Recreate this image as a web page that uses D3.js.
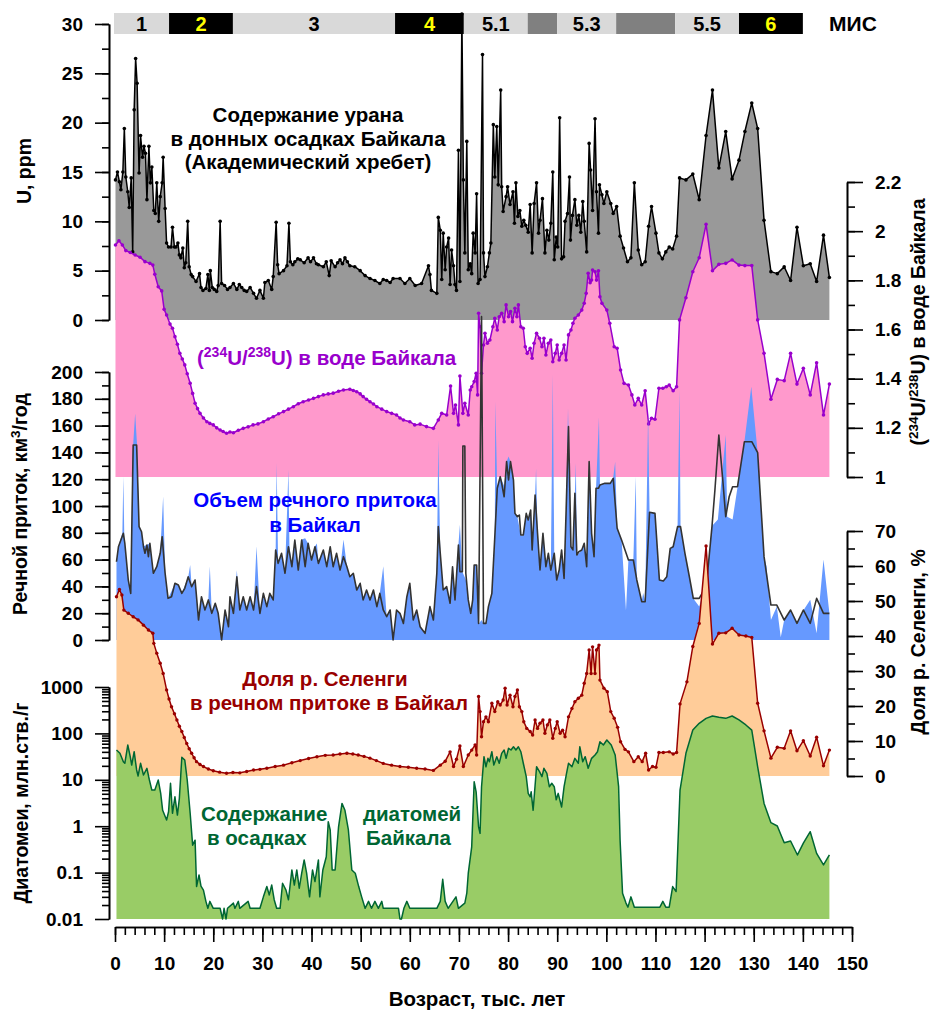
<!DOCTYPE html>
<html lang="ru">
<head>
<meta charset="UTF-8">
<title>Уран, изотопы и диатомеи Байкала</title>
<style>
  body { margin: 0; background: #fff; }
  svg { display: block; font-family: "Liberation Sans", Arial, sans-serif; font-weight: bold; }
  .axis text { font-size: 19px; font-weight: bold; fill: #000; font-family: "Liberation Sans", Arial, sans-serif; }
  .axis path, .axis line { stroke: #000; stroke-width: 1.6px; }
</style>
</head>
<body>
<svg id="chart" width="935" height="1010"></svg>
<script src="https://cdn.jsdelivr.net/npm/d3@7"></script>
<script>
// ---- data: [age (kyr), value] ----
const uranium = [[0.1,14.2],[0.5,15.0],[0.9,14.0],[1.2,13.2],[1.6,15.0],[1.9,19.4],[2.2,14.5],[2.6,13.0],[2.9,11.4],[3.3,14.4],[3.6,6.9],[3.9,21.3],[4.2,26.5],[4.5,24.0],[4.9,14.9],[5.2,18.7],[5.6,16.5],[5.9,17.6],[6.2,16.9],[6.5,12.2],[6.9,17.6],[7.2,13.9],[7.5,15.5],[7.9,11.1],[8.2,10.8],[8.5,13.9],[8.9,10.0],[9.2,12.5],[9.6,13.9],[9.8,16.5],[10.2,11.3],[10.5,7.8],[10.9,7.4],[11.4,7.4],[11.7,9.4],[12.1,7.4],[12.4,7.4],[12.8,7.8],[13.1,6.6],[13.4,6.3],[13.8,7.3],[14.1,5.3],[14.4,5.8],[14.8,10.0],[15.1,5.4],[15.5,4.6],[15.8,4.4],[16.5,3.9],[17.2,4.7],[17.5,3.3],[17.9,3.0],[18.5,3.2],[18.9,4.6],[19.2,3.0],[19.4,5.0],[19.8,3.3],[20.2,3.1],[20.7,2.9],[21.0,3.5],[21.4,10.0],[21.7,3.7],[22.3,3.5],[22.9,3.1],[23.4,3.3],[24.1,3.7],[24.8,3.1],[25.3,3.6],[25.8,3.3],[26.3,3.0],[26.8,2.9],[27.5,3.3],[28.2,2.7],[28.8,2.2],[29.5,3.0],[30.2,2.2],[30.5,3.8],[31.2,4.0],[31.9,3.1],[32.2,4.4],[32.8,9.9],[33.1,5.6],[33.4,4.7],[34.3,5.0],[35.0,5.5],[35.4,9.8],[35.7,5.9],[36.2,5.6],[36.6,5.9],[37.2,6.2],[37.7,6.1],[38.5,5.8],[39.3,6.3],[39.8,5.9],[40.4,6.3],[41.0,5.7],[41.4,5.6],[42.4,5.4],[43.0,5.9],[43.6,4.5],[44.0,6.0],[44.8,5.4],[45.3,5.8],[45.8,6.1],[46.3,5.7],[46.8,6.3],[47.3,5.9],[47.8,5.5],[48.8,5.4],[49.9,5.0],[50.9,4.5],[51.9,4.2],[52.9,4.0],[53.9,3.7],[54.6,4.1],[55.3,4.0],[56.0,3.8],[56.6,4.2],[58.0,4.2],[59.0,3.7],[60.0,4.2],[61.1,3.5],[62.4,3.7],[63.8,5.5],[64.1,4.6],[64.4,3.0],[65.5,2.7],[65.8,10.4],[66.2,9.1],[66.5,4.1],[66.8,8.8],[67.2,5.1],[67.5,7.4],[67.9,8.3],[68.2,3.6],[68.5,7.1],[68.9,5.5],[69.2,3.6],[69.5,3.0],[69.9,17.2],[70.2,3.9],[70.6,31],[70.9,14.2],[71.2,6.8],[71.6,18.1],[71.9,5.1],[72.3,5.7],[72.6,4.7],[72.9,8.8],[73.3,6.8],[73.6,12.8],[73.9,3.7],[74.3,4.1],[74.8,26.9],[75.0,6.8],[75.3,4.4],[75.8,5.4],[76.2,6.8],[76.5,7.8],[77.0,19.8],[77.3,14.5],[77.7,19.6],[78.0,13.7],[78.5,23.3],[78.7,13.5],[79.0,11.0],[79.6,12.5],[79.9,13.5],[80.4,11.7],[81.0,13.0],[81.3,9.8],[81.6,13.9],[82.0,10.5],[82.4,11.1],[82.8,9.5],[83.2,10.1],[83.6,9.6],[84.1,8.9],[84.5,11.7],[84.9,6.8],[85.3,11.8],[85.8,13.9],[86.2,8.8],[86.5,10.1],[87.0,12.3],[87.5,6.8],[87.9,9.1],[88.3,8.1],[88.7,9.8],[89.1,15.0],[89.4,6.1],[89.8,8.4],[90.1,7.4],[90.5,20.5],[90.9,6.2],[91.3,6.4],[91.6,10.0],[92.1,10.8],[92.5,14.5],[92.7,8.1],[93.1,10.6],[93.6,12.2],[94.0,9.6],[94.4,10.6],[94.8,8.9],[95.2,12.0],[95.5,10.0],[96.0,6.9],[96.5,17.9],[96.8,15.2],[97.2,11.1],[97.7,20.4],[98.0,13.0],[98.4,8.8],[98.6,13.7],[99.1,12.7],[99.5,11.8],[100.1,13.0],[100.9,11.8],[101.4,10.8],[102.1,11.5],[102.8,8.5],[103.5,7.3],[104.3,5.9],[105.0,6.3],[105.7,13.9],[106.5,7.1],[107.2,5.6],[107.9,5.9],[108.6,9.5],[109.2,11.5],[110.1,8.8],[110.7,6.8],[111.4,6.2],[112.1,6.9],[112.8,7.4],[113.5,7.2],[114.3,8.5],[114.9,14.4],[116.2,14.2],[117.6,14.8],[118.9,12.2],[120.3,18.7],[121.6,23.3],[122.9,15.4],[124.3,19.1],[125.6,14.3],[127.0,16.2],[128.2,19.1],[129.6,22.0],[130.8,19.4],[132.1,10.1],[133.5,4.9],[134.8,4.7],[136.2,5.4],[137.5,4.0],[138.8,9.4],[140.1,5.5],[141.5,5.7],[142.8,3.9],[144.2,8.6],[145.4,4.3]];

const uRatio = [[0.1,1.944],[0.8,1.961],[1.5,1.944],[2.2,1.921],[3.1,1.913],[4.1,1.903],[5.1,1.894],[6.1,1.876],[7.1,1.869],[7.7,1.862],[8.1,1.825],[8.8,1.774],[9.5,1.757],[10.0,1.682],[10.5,1.659],[11.2,1.622],[11.7,1.605],[12.2,1.571],[12.7,1.540],[13.2,1.503],[13.7,1.480],[14.2,1.456],[14.7,1.420],[15.3,1.381],[15.8,1.340],[16.3,1.300],[16.8,1.278],[17.3,1.259],[18.0,1.240],[18.7,1.225],[19.3,1.218],[20.0,1.212],[20.7,1.200],[21.4,1.191],[22.0,1.185],[22.7,1.178],[23.4,1.183],[24.1,1.180],[25.1,1.190],[26.1,1.198],[27.1,1.204],[28.1,1.212],[29.1,1.216],[30.2,1.225],[31.2,1.236],[32.2,1.245],[33.3,1.257],[34.3,1.266],[35.3,1.276],[36.3,1.286],[37.3,1.298],[38.3,1.306],[39.4,1.313],[40.4,1.320],[41.4,1.327],[42.4,1.334],[43.4,1.338],[44.4,1.341],[45.5,1.349],[46.5,1.354],[47.8,1.357],[48.5,1.352],[49.2,1.347],[49.9,1.338],[50.5,1.327],[51.2,1.316],[51.9,1.306],[52.6,1.297],[53.3,1.286],[54.3,1.276],[55.3,1.266],[56.3,1.259],[57.3,1.252],[58.0,1.240],[58.7,1.232],[60.0,1.225],[61.0,1.212],[62.1,1.215],[63.4,1.205],[64.8,1.198],[65.8,1.232],[66.5,1.259],[67.5,1.252],[68.3,1.370],[68.9,1.259],[69.3,1.293],[69.9,1.212],[70.2,1.411],[70.8,1.259],[71.2,1.300],[71.9,1.252],[72.3,1.354],[72.6,1.367],[73.1,1.388],[73.5,1.422],[73.8,1.334],[74.0,1.666],[74.3,1.611],[74.6,1.422],[75.0,1.537],[75.3,1.585],[75.8,1.544],[76.3,1.557],[76.9,1.611],[77.3,1.646],[77.8,1.598],[78.2,1.652],[78.7,1.666],[79.2,1.632],[79.6,1.700],[80.1,1.652],[80.5,1.673],[80.9,1.632],[81.4,1.686],[81.8,1.652],[82.1,1.700],[82.6,1.611],[83.1,1.605],[83.5,1.530],[83.9,1.503],[84.5,1.524],[84.9,1.483],[85.3,1.544],[85.8,1.585],[86.4,1.564],[86.9,1.530],[87.3,1.564],[87.7,1.496],[88.2,1.544],[88.7,1.557],[89.1,1.469],[89.6,1.503],[90.0,1.537],[90.4,1.476],[90.9,1.503],[91.4,1.537],[91.8,1.476],[92.3,1.578],[92.8,1.598],[93.2,1.625],[93.6,1.646],[94.3,1.659],[95.0,1.679],[95.5,1.707],[95.9,1.747],[96.3,1.829],[96.7,1.790],[97.0,1.801],[97.2,1.842],[97.7,1.835],[98.0,1.801],[98.4,1.839],[98.7,1.733],[99.1,1.707],[100.1,1.679],[100.7,1.625],[101.6,1.530],[102.2,1.524],[102.9,1.435],[103.6,1.381],[104.5,1.374],[105.2,1.334],[105.8,1.293],[106.5,1.320],[107.2,1.293],[107.9,1.351],[108.6,1.216],[109.2,1.239],[109.9,1.235],[110.7,1.361],[111.5,1.361],[112.2,1.367],[112.8,1.374],[113.6,1.351],[114.3,1.367],[114.9,1.639],[116.2,1.729],[117.6,1.835],[118.9,1.892],[120.3,2.028],[121.6,1.839],[122.9,1.865],[124.3,1.869],[125.6,1.883],[127.0,1.862],[128.2,1.860],[129.6,1.860],[130.8,1.639],[132.1,1.503],[133.5,1.316],[134.8,1.397],[136.2,1.392],[137.5,1.503],[138.8,1.378],[140.1,1.442],[141.5,1.334],[142.8,1.465],[144.2,1.252],[145.4,1.378]];

const inflowArea = [[0.3,58],[0.7,70],[1.5,80],[1.7,122],[1.9,75],[2.7,45],[3.2,35],[3.6,140],[4.1,169],[4.5,145],[4.9,85],[5.4,81],[5.8,70],[6.5,71],[7.1,72],[7.8,50],[8.5,55],[9.2,65],[9.8,107],[10.2,50],[10.8,31],[12.2,42],[12.9,41],[13.6,35],[14.9,47],[15.3,56],[15.6,40],[16.3,45],[17.0,15],[17.6,32],[18.3,22],[19.0,30],[19.3,55],[19.7,20],[20.4,27],[21.0,20],[21.7,2],[22.4,22],[23.1,10],[23.4,32],[24.1,20],[24.8,52],[25.4,22],[26.1,32],[26.8,22],[27.5,32],[28.2,22],[28.8,70],[29.5,20],[30.2,35],[30.9,25],[31.5,35],[32.2,30],[32.7,67],[32.9,132],[33.2,57],[33.9,65],[34.6,50],[35.3,127],[35.5,70],[36.0,55],[36.6,75],[37.3,52],[38.0,75],[38.7,76],[39.3,72],[40.0,60],[40.7,70],[41.1,72],[41.4,57],[42.4,67],[43.1,55],[43.8,70],[44.4,55],[45.1,65],[45.8,52],[46.5,75],[47.2,55],[47.8,47],[48.5,50],[49.2,37],[49.9,42],[50.5,30],[51.2,37],[51.9,30],[52.6,37],[53.3,25],[53.9,35],[54.6,55],[55.3,17],[56.0,22],[56.6,2],[57.3,22],[58.0,20],[58.7,12],[59.4,32],[60.0,42],[60.7,15],[61.4,22],[62.1,10],[63.1,5],[64.1,25],[64.8,15],[65.5,50],[65.8,149],[66.2,65],[66.8,37],[67.5,40],[68.2,27],[68.7,55],[69.2,30],[69.9,71],[70.2,86],[70.7,51],[71.4,45],[71.9,30],[72.4,20],[72.8,30],[73.1,56],[73.6,56],[74.0,12],[74.6,15],[75.0,12],[75.5,12],[76.0,25],[76.7,35],[77.3,77],[77.4,178],[77.8,113],[78.4,122],[79.2,115],[79.7,133],[80.1,137],[80.5,133],[81.1,119],[81.4,95],[81.9,92],[82.6,78],[83.1,78],[83.7,95],[84.1,90],[84.6,97],[84.9,67],[85.5,108],[85.7,128],[86.0,80],[86.5,52],[87.1,80],[87.7,55],[88.2,65],[88.7,52],[89.1,198],[89.4,65],[89.9,45],[90.4,52],[90.9,67],[91.4,46],[91.8,95],[92.2,173],[92.8,70],[93.2,67],[93.6,110],[93.8,132],[94.0,63],[95.0,67],[95.5,72],[96.0,55],[96.5,133],[97.0,80],[97.5,62],[97.9,113],[98.5,166],[98.7,116],[99.7,117],[100.8,117],[101.4,121],[101.8,133],[102.2,83],[103.1,75],[104.0,22],[104.5,60],[105.5,60],[106.0,122],[106.2,45],[107.2,29],[107.5,35],[107.9,29],[108.5,169],[108.8,95],[109.9,95],[110.8,45],[111.6,44],[112.3,47],[113.0,68],[113.6,70],[114.5,85],[114.9,187],[115.1,85],[116.0,65],[116.9,47],[117.7,31],[118.9,25],[119.9,37],[120.6,50],[121.5,85],[122.7,90],[124.3,153],[124.6,92],[125.7,90],[126.7,114],[128.1,148],[129.5,189],[130.8,140],[132.1,62],[132.6,55],[133.5,15],[134.7,25],[135.5,2],[136.2,15],[137.5,22],[138.8,12],[140.1,22],[141.5,30],[142.8,5],[144.2,60],[145.4,20]];

const inflowLine = [[0.3,58.4],[0.7,69.6],[1.7,79.6],[2.0,72.2],[2.7,44.8],[3.2,34.8],[3.7,145.5],[4.4,145.5],[4.9,84.6],[5.4,80.8],[5.8,69.6],[6.1,64.7],[6.5,70.9],[6.8,62.2],[7.1,72.2],[7.8,49.8],[8.5,54.7],[9.2,64.7],[9.6,77.1],[10.2,49.8],[10.8,31.1],[11.5,32.3],[12.2,42.3],[12.9,41.0],[13.6,34.8],[14.2,38.6],[14.9,47.2],[15.6,39.8],[16.3,44.8],[17.0,14.9],[17.6,32.3],[18.3,22.4],[19.0,29.9],[19.7,19.9],[20.4,27.4],[21.0,19.9],[21.7,0],[22.4,22.4],[23.1,9.9],[23.4,32.3],[24.1,19.9],[24.8,47.2],[25.4,22.4],[26.1,32.3],[26.8,22.4],[27.5,32.3],[28.2,22.4],[28.8,39.8],[29.5,19.9],[30.2,34.8],[30.9,24.9],[31.5,34.8],[32.2,29.9],[32.7,67.2],[33.2,57.2],[33.9,64.7],[34.6,49.8],[35.3,69.6],[36.0,54.7],[36.6,74.6],[37.3,52.2],[38.0,74.6],[38.7,54.7],[39.3,72.2],[40.0,59.7],[40.7,69.6],[41.4,57.2],[42.4,67.2],[43.1,54.7],[43.8,69.6],[44.4,54.7],[45.1,64.7],[45.8,52.2],[46.5,62.2],[47.2,54.7],[47.8,47.2],[48.5,49.8],[49.2,37.3],[49.9,42.3],[50.5,29.9],[51.2,37.3],[51.9,29.9],[52.6,37.3],[53.3,24.9],[53.9,34.8],[54.6,22.4],[55.3,17.4],[56.0,22.4],[56.6,0],[57.3,22.4],[58.0,19.9],[58.7,12.4],[59.4,32.3],[60.0,42.3],[60.7,14.9],[61.4,22.4],[62.1,9.9],[63.1,5.0],[64.1,24.9],[64.8,14.9],[65.5,49.8],[65.8,84.6],[66.2,64.7],[66.8,37.3],[67.5,39.8],[68.2,27.4],[68.7,54.7],[69.2,29.9],[69.9,70.9],[70.2,51.0],[70.7,51.0],[70.8,144.8],[71.2,144.8],[71.4,49.8],[71.9,29.9],[72.4,19.9],[72.8,29.9],[73.1,56.0],[73.6,56.0],[74.0,12.4],[74.6,241.3],[75.0,12.4],[75.5,12.4],[76.0,24.9],[76.7,34.8],[77.3,77.1],[77.8,113.2],[78.4,121.9],[78.7,116.9],[79.2,106.9],[79.7,133.1],[80.1,119.4],[80.5,133.1],[81.1,119.4],[81.4,94.5],[81.9,92.0],[82.3,93.3],[82.6,78.4],[83.1,78.4],[83.7,94.5],[84.1,89.6],[84.6,97.0],[84.9,67.2],[85.5,108.2],[86.0,79.6],[86.5,52.2],[87.1,79.6],[87.7,54.7],[88.2,64.7],[88.7,52.2],[89.4,64.7],[89.9,44.8],[90.4,52.2],[90.9,67.2],[91.4,46.0],[91.8,94.5],[92.3,159.2],[92.8,69.6],[93.2,67.2],[93.6,109.5],[94.0,63.4],[94.4,65.9],[95.0,67.2],[95.5,72.2],[96.0,54.7],[96.5,133.1],[97.0,79.6],[97.5,62.2],[97.9,113.2],[98.4,113.2],[98.7,115.7],[99.7,116.9],[100.8,116.9],[101.4,120.6],[102.2,83.4],[103.1,74.6],[104.5,59.7],[105.5,59.7],[106.2,44.8],[107.2,28.6],[107.9,28.6],[108.8,95.3],[109.9,94.5],[110.8,44.8],[111.6,44.0],[112.3,47.2],[113.0,68.4],[113.6,69.6],[114.5,84.6],[115.1,84.6],[116.0,64.7],[116.9,47.2],[117.7,31.1],[118.9,31.1],[119.9,37.3],[120.6,49.8],[121.5,84.6],[122.1,111.9],[122.9,153.0],[123.7,119.4],[124.3,92.0],[125.0,106.9],[125.7,114.4],[126.7,114.4],[128.1,148.0],[129.6,148.0],[130.8,139.8],[132.1,62.2],[133.5,26.1],[134.7,26.1],[136.2,14.9],[137.5,22.4],[138.8,12.4],[140.1,22.4],[141.5,12.4],[142.8,31.1],[144.2,19.9],[145.4,19.9]];

const selenga = [[0.3,51.2],[0.9,53.3],[1.4,51.7],[1.8,47.4],[2.7,46.5],[3.7,45.5],[4.7,44.6],[5.8,43.1],[6.8,41.7],[7.7,40.8],[7.9,37.9],[8.5,35.1],[9.2,32.2],[9.8,29.3],[10.5,24.6],[11.0,22.0],[11.5,19.8],[12.1,17.8],[12.6,16.0],[13.1,14.2],[13.6,12.7],[14.1,11.0],[14.6,9.3],[15.1,7.8],[15.6,6.5],[16.1,5.2],[16.6,4.1],[17.3,3.3],[18.0,2.7],[19.0,2.0],[20.0,1.5],[21.3,1.1],[22.7,0.8],[24.0,1.0],[25.4,0.9],[26.8,1.3],[28.2,1.7],[29.5,1.9],[30.9,2.2],[32.6,2.7],[34.3,3.1],[36.0,3.8],[37.7,4.4],[39.4,5.0],[41.1,5.5],[42.8,5.9],[44.4,6.0],[45.8,6.3],[47.2,6.5],[48.4,6.3],[49.5,6.0],[50.7,5.6],[51.9,5.1],[53.2,4.4],[54.6,3.6],[56.3,3.1],[58.0,2.7],[59.7,2.5],[61.4,2.2],[63.1,2.0],[64.8,1.6],[66.2,3.1],[67.2,4.2],[68.2,6.9],[68.9,2.7],[69.5,4.8],[70.2,8.6],[70.9,2.7],[71.9,6.0],[72.6,7.4],[73.3,8.9],[73.6,6.0],[74.0,22.7],[74.3,18.4],[74.6,11.2],[75.0,15.5],[75.5,16.9],[76.0,15.5],[76.7,20.8],[77.3,18.4],[77.9,21.2],[78.4,20.3],[79.0,21.7],[79.4,25.1],[79.8,20.3],[80.4,23.1],[81.0,19.8],[81.4,22.7],[81.9,24.6],[82.3,19.8],[82.8,18.4],[83.2,15.5],[83.8,13.6],[84.5,12.7],[85.0,11.7],[85.5,16.0],[86.0,13.6],[86.5,15.1],[87.1,16.0],[87.5,12.2],[88.0,14.6],[88.5,16.0],[89.1,10.8],[89.6,13.6],[90.0,15.5],[90.6,12.2],[91.1,13.1],[91.6,11.2],[92.3,16.9],[93.0,19.3],[93.6,21.2],[94.3,22.2],[95.0,23.1],[95.5,26.5],[96.0,29.3],[96.5,36.0],[96.9,29.3],[97.2,36.9],[97.7,29.3],[98.0,36.0],[98.5,37.4],[98.7,27.4],[99.5,25.1],[100.2,24.1],[100.9,18.4],[101.6,16.5],[102.3,13.9],[102.9,9.8],[103.8,7.6],[104.5,6.9],[105.6,4.1],[106.5,5.5],[107.3,4.1],[108.0,6.5],[108.6,1.7],[109.4,2.7],[110.1,2.5],[110.7,6.7],[111.6,6.7],[112.8,6.9],[113.6,6.3],[114.3,6.7],[115.0,20.6],[116.4,26.9],[117.6,37.0],[118.9,43.6],[120.3,65.7],[121.6,37.7],[122.9,40.8],[124.3,40.9],[125.6,42.2],[127.0,40.3],[128.4,40.0],[129.6,39.6],[130.8,20.8],[132.1,12.9],[133.5,5.1],[134.8,8.2],[136.2,7.9],[137.5,12.9],[138.8,7.2],[140.1,10.1],[141.5,5.7],[142.8,11.1],[144.2,2.9],[145.4,7.4]];

const diatoms = [[0.3,43.9],[1.0,37.2],[1.7,24.5],[2.0,22.7],[2.6,56.2],[3.1,31.5],[3.4,20.8],[3.9,40.3],[4.4,16.3],[4.7,12.1],[5.2,22.7],[5.8,12.7],[6.5,17.7],[7.0,9.9],[7.5,6.0],[8.1,6.0],[8.8,9.9],[9.3,5.1],[9.7,2.2],[10.5,1.36],[10.9,2.05],[11.3,8.4],[11.7,1.9],[12.2,4.3],[12.7,1.74],[13.1,4.0],[13.6,30.5],[14.2,26.7],[14.7,9.9],[15.3,1.9],[15.8,0.39],[16.3,0.50],[16.6,0.050],[17.1,0.089],[17.5,0.051],[18.0,0.042],[18.5,0.024],[18.9,0.017],[19.3,0.024],[20.0,0.017],[21.4,0.017],[21.9,0.01],[22.2,0.017],[22.6,0.01],[22.9,0.017],[24.1,0.022],[24.4,0.017],[25.1,0.024],[25.4,0.017],[27.1,0.024],[27.5,0.017],[29.5,0.017],[30.2,0.030],[30.9,0.050],[31.4,0.033],[31.9,0.054],[32.4,0.026],[32.9,0.017],[33.6,0.017],[34.1,0.059],[34.8,0.042],[35.3,0.026],[36.0,0.114],[36.5,0.054],[37.0,0.114],[37.5,0.046],[38.0,0.097],[38.5,0.187],[39.0,0.097],[39.6,0.030],[40.2,0.114],[40.7,0.064],[41.4,0.187],[41.7,0.030],[42.3,0.114],[43.0,0.22],[43.4,1.25],[43.8,0.83],[44.2,0.114],[44.8,0.114],[45.5,0.97],[46.2,3.1],[46.8,2.2],[47.5,0.83],[48.2,0.114],[48.9,0.097],[49.6,0.050],[50.2,0.030],[50.9,0.017],[51.6,0.024],[52.2,0.017],[52.9,0.024],[53.6,0.017],[54.3,0.024],[54.6,0.017],[57.7,0.017],[58.0,0.01],[58.3,0.01],[58.8,0.017],[59.4,0.024],[60.0,0.017],[65.5,0.017],[66.2,0.024],[66.7,0.072],[67.2,0.024],[67.8,0.017],[69.4,0.030],[69.9,0.017],[71.2,0.022],[71.6,0.036],[71.9,0.097],[72.6,0.36],[73.1,9.1],[73.5,5.5],[74.0,0.97],[74.3,0.70],[74.6,7.1],[75.1,31.5],[75.5,19.1],[75.9,29],[76.2,24.5],[76.7,40.3],[77.1,20.8],[77.7,31.5],[78.2,22.7],[78.7,37.2],[79.2,43.9],[79.6,29],[80.1,47.8],[80.6,43.9],[81.1,51.6],[81.6,43.9],[82.1,51.6],[82.6,40.3],[83.1,22.7],[83.7,11.7],[84.1,5.1],[84.5,4.3],[84.7,5.5],[85.1,2.2],[85.8,19.1],[86.4,15.0],[86.9,11.7],[87.3,17.7],[87.9,13.8],[88.4,7.1],[88.9,8.4],[89.4,7.1],[89.8,3.7],[90.2,5.1],[90.9,2.6],[91.4,7.1],[91.9,13.8],[92.3,22.7],[93.0,19.1],[93.6,29],[94.3,22.7],[94.6,51.6],[95.2,24.5],[95.7,31.5],[96.3,17.7],[97.0,29],[97.7,34.2],[98.2,40.3],[98.7,66.2],[99.4,56.2],[100.1,72.1],[101.0,56.2],[101.8,34.2],[102.5,7.1],[102.8,0.5],[103.3,0.036],[104.0,0.022],[104.4,0.018],[105.0,0.030],[105.7,0.018],[110.9,0.018],[111.5,0.024],[112.1,0.018],[112.8,0.018],[113.5,0.050],[114.2,0.039],[115.0,6.0],[116.2,37.2],[117.6,118],[118.9,165],[120.3,211],[121.6,237],[122.9,222],[124.3,211],[125.6,237],[127.0,195],[128.4,152],[129.6,118],[130.8,19.1],[132.1,3.1],[133.5,1.19],[134.8,1.01],[136.2,0.44],[137.5,0.48],[138.9,0.24],[140.1,0.43],[141.5,0.76],[142.8,0.26],[144.2,0.146],[145.4,0.24]];

// marine isotope stages
const misLabels = ["1", "2", "3", "4", "5.1", "", "5.3", "", "5.5", "6"];
const misStart = [0, 11, 24, 57, 71, 84, 90, 102, 114, 127];
const misEnd = [11, 24, 57, 71, 84, 90, 102, 114, 127, 140];
const misKind = ["light", "dark", "light", "dark", "light", "mid", "light", "mid", "light", "dark"];

// tick values
const ageTicks = [0, 10, 20, 30, 40, 50, 60, 70, 80, 90, 100, 110, 120, 130, 140, 150];
const uTicks = [0, 5, 10, 15, 20, 25, 30];
const ratioTicks = [1, 1.2, 1.4, 1.6, 1.8, 2, 2.2];
const inflowTicks = [0, 20, 40, 60, 80, 100, 120, 140, 160, 180, 200];
const selengaTicks = [0, 10, 20, 30, 40, 50, 60, 70];
const diatomTicks = [0.01, 0.1, 1, 10, 100, 1000];

// ---- chart ----
const svg = d3.select("#chart");

const x = d3.scaleLinear().domain([0, 150]).range([115, 852]);
const yU = d3.scaleLinear().domain([0, 30]).range([320, 24]);
const yI = d3.scaleLinear().domain([1, 2.2]).range([477, 182]);
const yR = d3.scaleLinear().domain([0, 200]).range([640, 372]);
const yS = d3.scaleLinear().domain([0, 70]).range([776, 531]);
const yD = d3.scaleLog().domain([0.01, 1000]).range([919, 687]);

function drawSeries(data, y, base, fill, stroke, width, dotR) {
    const area = d3.area()
        .x(d => x(d[0]))
        .y0(y(base))
        .y1(d => y(d[1]));
    svg.append("path")
        .datum(data)
        .attr("d", area)
        .attr("fill", fill);
    if (!stroke) return;
    const line = d3.line()
        .x(d => x(d[0]))
        .y(d => y(d[1]));
    svg.append("path")
        .datum(data)
        .attr("d", line)
        .attr("fill", "none")
        .attr("stroke", stroke)
        .attr("stroke-width", width)
        .attr("stroke-linejoin", "round");
    if (dotR) {
        svg.append("g")
            .selectAll("circle")
            .data(data)
            .enter().append("circle")
            .attr("cx", d => x(d[0]))
            .attr("cy", d => y(d[1]))
            .attr("r", dotR)
            .attr("fill", stroke);
    }
}

drawSeries(uranium, yU, 0, "#999999", "#000000", 1.5, 1.8);
drawSeries(uRatio, yI, 1, "#ff99cc", "#9900cc", 1.5, 1.8);
drawSeries(inflowArea, yR, 0, "#6699ff", null);
// dark inflow line
svg.append("path")
    .datum(inflowLine)
    .attr("d", d3.line().x(d => x(d[0])).y(d => yR(d[1])))
    .attr("fill", "none")
    .attr("stroke", "#333333")
    .attr("stroke-width", 1.6)
    .attr("stroke-linejoin", "round");
drawSeries(selenga, yS, 0, "#ffcc99", "#990000", 1.5, 1.7);
drawSeries(diatoms, yD, 0.01, "#99cc66", "#006633", 1.5, 0);

// ---- axes ----
function addAxis(orient, scale, at, majors, minors, fmt, len) {
    const make = orient === "left" ? d3.axisLeft : orient === "right" ? d3.axisRight : d3.axisBottom;
    const tr = orient === "bottom" ? `translate(0,${at})` : `translate(${at},0)`;
    svg.append("g").attr("class", "axis").attr("transform", tr)
        .call(make(scale).tickValues(minors).tickSize(len[1]).tickSizeOuter(0).tickFormat(""));
    svg.append("g").attr("class", "axis").attr("transform", tr)
        .call(make(scale).tickValues(majors).tickSize(len[0]).tickSizeOuter(0)
            .tickPadding(orient === "bottom" ? 15 : 12).tickFormat(fmt));
}

const halfSteps = (a, b, step) => d3.range(a, b + step / 2, step);
const logMinor = [];
diatomTicks.slice(0, -1).forEach(t => { for (let k = 2; k <= 9; k++) logMinor.push(+(t * k).toPrecision(3)); });

addAxis("left", yU, 109, uTicks, halfSteps(0, 30, 2.5), d => d, [14, 7]);
addAxis("left", yR, 109, inflowTicks, halfSteps(0, 200, 10), d => d, [14, 7]);
addAxis("left", yD, 109, diatomTicks, logMinor, d => String(d), [14, 7]);
addAxis("right", yI, 847, ratioTicks, halfSteps(1, 2.2, 0.1), d => d3.format("~g")(d), [16, 8]);
addAxis("right", yS, 847, selengaTicks, halfSteps(0, 70, 5), d => d, [16, 8]);
addAxis("bottom", x, 927, ageTicks, halfSteps(0, 150, 2), d => d, [15, 8]);

// ---- MIS bar ----
const mis = svg.append("g");
misLabels.forEach((lab, i) => {
    const x0 = x(misStart[i]) - (i === 0 ? 1 : 0);
    const x1 = x(misEnd[i]);
    const kind = misKind[i];
    mis.append("rect")
        .attr("x", x0).attr("y", 13)
        .attr("width", x1 - x0).attr("height", 21)
        .attr("fill", kind === "dark" ? "#000000" : kind === "mid" ? "#808080" : "#d9d9d9");
    if (lab) {
        mis.append("text")
            .attr("x", (x0 + x1) / 2).attr("y", 31)
            .attr("text-anchor", "middle")
            .attr("font-size", 20)
            .attr("fill", kind === "dark" ? "#ffff00" : "#000000")
            .text(lab);
    }
});
svg.append("text").attr("x", 853).attr("y", 31).attr("text-anchor", "middle")
    .attr("font-size", 21).text("МИС");

// ---- axis titles (parts: plain strings, or {sup: "..."}) ----
function vTitle(cx, cy, parts) {
    const t = svg.append("text")
        .attr("transform", `translate(${cx + 7},${cy}) rotate(-90)`)
        .attr("text-anchor", "middle")
        .attr("font-size", 19.5);
    let raised = false;
    parts.forEach(p => {
        if (typeof p === "object") {
            t.append("tspan").attr("dy", -7).attr("font-size", 13.5).text(p.sup);
            raised = true;
        } else {
            t.append("tspan").attr("dy", raised ? 7 : 0).text(p);
            raised = false;
        }
    });
}
vTitle(24, 171, ["U, ppm"]);
vTitle(20, 504, ["Речной приток, км", { sup: "3" }, "/год"]);
vTitle(21, 803, ["Диатомеи, млн.ств./г"]);
vTitle(918, 322, ["(", { sup: "234" }, "U/", { sup: "238" }, "U) в воде Байкала"]);
vTitle(918, 642, ["Доля р. Селенги, %"]);

svg.append("text").attr("x", 477).attr("y", 1006).attr("text-anchor", "middle")
    .attr("font-size", 20.5).text("Возраст, тыс. лет");

// ---- annotations ----
function note(lines, color, anchor) {
    lines.forEach(l => {
        svg.append("text")
            .attr("x", l[0]).attr("y", l[1])
            .attr("text-anchor", anchor)
            .attr("font-size", 20.5)
            .attr("fill", color)
            .text(l[2]);
    });
}
note([[308, 122, "Содержание урана"], [308, 146, "в донных осадках Байкала"],
      [308, 169, "(Академический хребет)"]], "#000000", "middle");
note([[315, 507, "Объем речного притока"], [315, 532, "в Байкал"]], "#0000ff", "middle");
note([[325, 686, "Доля р. Селенги"], [329, 710, "в речном притоке в Байкал"]], "#990000", "middle");
note([[201, 821, "Содержание"], [207, 845, "в осадках"], [363, 821, "диатомей"], [366, 845, "Байкала"]],
     "#006633", "start");

const iso = svg.append("text").attr("x", 197).attr("y", 365)
    .attr("font-size", 20.5).attr("fill", "#9900cc");
iso.append("tspan").text("(");
iso.append("tspan").attr("dy", -8).attr("font-size", 14).text("234");
iso.append("tspan").attr("dy", 8).text("U/");
iso.append("tspan").attr("dy", -8).attr("font-size", 14).text("238");
iso.append("tspan").attr("dy", 8).text("U) в воде Байкала");
</script>
</body>
</html>
